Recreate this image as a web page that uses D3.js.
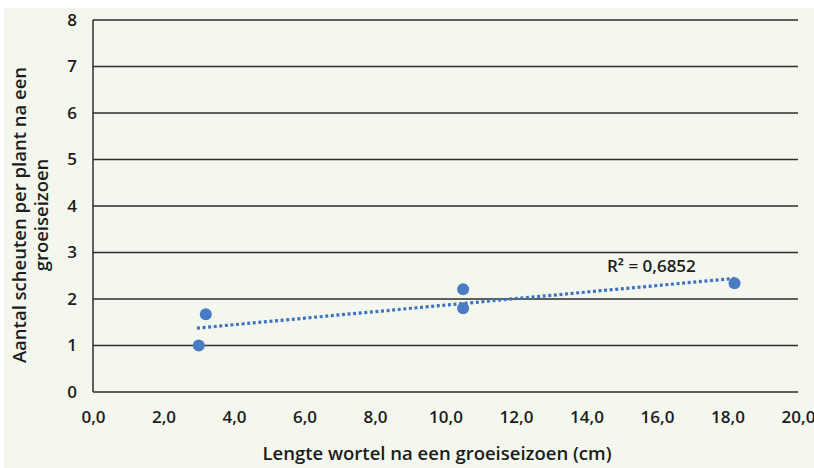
<!DOCTYPE html>
<html><head><meta charset="utf-8">
<script src="https://cdn.jsdelivr.net/npm/d3@7"></script>
<style>
html,body{margin:0;padding:0;background:#fff;}
svg{display:block;font-family:"Open Sans",sans-serif;}
</style></head>
<body>
<svg id="chart" width="814" height="468"></svg>
<script>
// Data
const lengthCm = [3.0, 3.2, 10.5, 10.5, 18.2];
const shoots = [1.0, 1.67, 2.21, 1.8, 2.34];
const xTicks = [0, 2, 4, 6, 8, 10, 12, 14, 16, 18, 20];
const yTicks = [0, 1, 2, 3, 4, 5, 6, 7, 8];
const r2Label = "R² = 0,6852";
const xTitle = "Lengte wortel na een groeiseizoen (cm)";
const yTitleLines = ["Aantal scheuten per plant na een", "groeiseizoen"];

const svg = d3.select("#chart");
svg.append("rect").attr("x", 4).attr("y", 8).attr("width", 810).attr("height", 460).attr("fill", "#f3f7ed");

const x = d3.scaleLinear().domain([0, 20]).range([93, 798]);
const y = d3.scaleLinear().domain([0, 8]).range([392, 20]);

const fmt = d => d.toFixed(1).replace(".", ",");
const ink = "#1c1c1c";

// gridlines
svg.append("g").selectAll("line").data(yTicks).join("line")
  .attr("x1", x(0)).attr("x2", x(20))
  .attr("y1", d => y(d)).attr("y2", d => y(d))
  .attr("stroke", "#2e2e2e").attr("stroke-width", 1.5);
// left axis line
svg.append("line").attr("x1", x(0)).attr("x2", x(0)).attr("y1", y(8)).attr("y2", y(0))
  .attr("stroke", "#2e2e2e").attr("stroke-width", 1.5);

// y tick labels
const yAxis = d3.axisLeft(y).tickValues(yTicks).tickSize(0).tickPadding(16).tickFormat(d3.format("d"));
const gy = svg.append("g").attr("transform", `translate(${x(0)},0)`).call(yAxis);
gy.select(".domain").remove();
gy.selectAll("text").attr("font-size", 17).attr("font-weight", 600).attr("fill", ink)
  .attr("font-family", "'Open Sans',sans-serif");

// x tick labels
const xAxis = d3.axisBottom(x).tickValues(xTicks).tickSize(0).tickPadding(19).tickFormat(fmt);
const gx = svg.append("g").attr("transform", `translate(0,${y(0)})`).call(xAxis);
gx.select(".domain").remove();
gx.selectAll("text").attr("font-size", 17).attr("font-weight", 600).attr("fill", ink)
  .attr("font-family", "'Open Sans',sans-serif");

// trendline (least squares from data)
const mx = d3.mean(lengthCm), my = d3.mean(shoots);
let sxy = 0, sxx = 0;
lengthCm.forEach((v, i) => { sxy += (v - mx) * (shoots[i] - my); sxx += (v - mx) ** 2; });
const slope = sxy / sxx, icpt = my - slope * mx;
const x0 = d3.min(lengthCm) - 0.05, x1 = d3.max(lengthCm);
svg.append("line")
  .attr("x1", x(x0)).attr("y1", y(icpt + slope * x0))
  .attr("x2", x(x1)).attr("y2", y(icpt + slope * x1))
  .attr("stroke", "#3f72c0").attr("stroke-width", 3.2)
  .attr("stroke-dasharray", "3,2.6");

// points
svg.append("g").selectAll("circle").data(lengthCm).join("circle")
  .attr("cx", d => x(d)).attr("cy", (d, i) => y(shoots[i]))
  .attr("r", 6).attr("fill", "#4a7cc5");

// R2 label
svg.append("text").attr("x", 607).attr("y", 272).attr("font-size", 17).attr("font-weight", 600)
  .attr("fill", ink).text(r2Label);

// axis titles
svg.append("text").attr("x", 437).attr("y", 460).attr("text-anchor", "middle")
  .attr("font-size", 18.5).attr("font-weight", 600).attr("fill", ink).text(xTitle);

const yt = svg.append("text").attr("transform", "translate(26,215) rotate(-90)")
  .attr("text-anchor", "middle").attr("font-size", 18.5).attr("font-weight", 600).attr("fill", ink);
yTitleLines.forEach((t, i) => yt.append("tspan").attr("x", 0).attr("dy", i === 0 ? 0 : 22).text(t));
</script>
</body></html>
